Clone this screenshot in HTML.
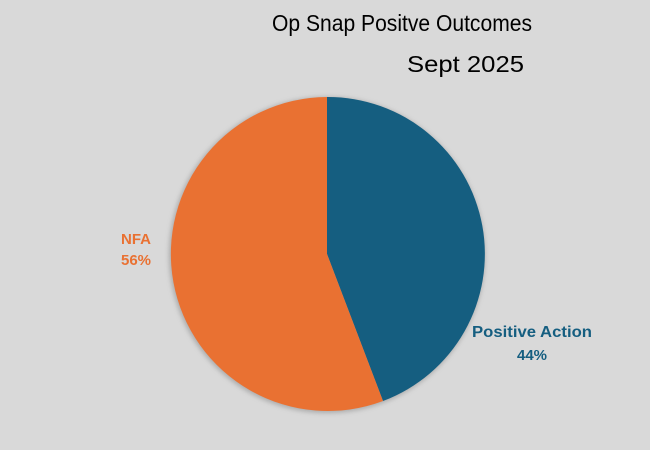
<!DOCTYPE html>
<html><head><style>
html,body{margin:0;padding:0;background:#d9d9d9;}
</style></head><body>
<svg width="650" height="450" xmlns="http://www.w3.org/2000/svg" style="display:block">
<defs><filter id="s" x="-20%" y="-20%" width="140%" height="140%"><feGaussianBlur stdDeviation="2.5"/></filter></defs>
<rect width="650" height="450" fill="#d9d9d9"/>
<text x="272" y="31" font-family="Liberation Sans, sans-serif" font-size="23" fill="#000" textLength="260" lengthAdjust="spacingAndGlyphs">Op Snap Positve Outcomes</text>
<text x="407" y="72" font-family="Liberation Sans, sans-serif" font-size="23" fill="#000" textLength="117" lengthAdjust="spacingAndGlyphs">Sept 2025</text>
<circle cx="327" cy="255" r="158" fill="#999" filter="url(#s)" opacity="0.7"/>
<path d="M327,254 L327,97 A157,157 0 0 1 383,401 Z" fill="#155e80"/>
<path d="M327,254 L383,401 A157,157 0 1 1 327,97 Z" fill="#e97132"/>
<text x="136" y="244" font-family="Liberation Sans, sans-serif" font-size="15" font-weight="bold" fill="#e97132" text-anchor="middle">NFA</text>
<text x="136" y="265" font-family="Liberation Sans, sans-serif" font-size="15" font-weight="bold" fill="#e97132" text-anchor="middle">56%</text>
<text x="472" y="337" font-family="Liberation Sans, sans-serif" font-size="16" font-weight="bold" fill="#155e80" textLength="120" lengthAdjust="spacingAndGlyphs">Positive Action</text>
<text x="532" y="360" font-family="Liberation Sans, sans-serif" font-size="15" font-weight="bold" fill="#155e80" text-anchor="middle">44%</text>
</svg>
</body></html>
